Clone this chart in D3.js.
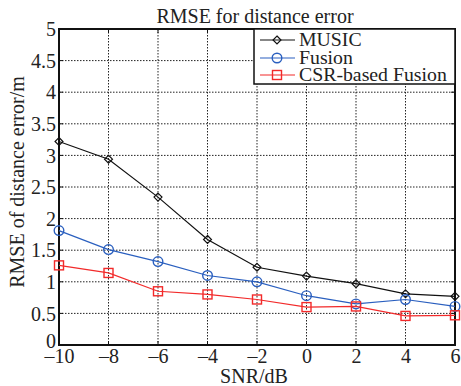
<!DOCTYPE html>
<html><head><meta charset="utf-8">
<script src="https://cdn.jsdelivr.net/npm/d3@7"></script>
<style>
body{margin:0;background:#fff;}
svg text{font-family:"Liberation Serif","Times New Roman",Times,serif;fill:#222;}
</style></head>
<body><svg id="c" width="461" height="386"></svg>
<script>
const snr = [-10,-8,-6,-4,-2,0,2,4,6];
const music = [3.22,2.94,2.34,1.67,1.23,1.09,0.97,0.81,0.77];
const fusion = [1.81,1.51,1.32,1.10,1.00,0.78,0.65,0.72,0.61];
const csr = [1.26,1.14,0.85,0.80,0.72,0.60,0.61,0.46,0.47];
const yTicks = [0,0.5,1,1.5,2,2.5,3,3.5,4,4.5,5];
const xTicks = [-10,-8,-6,-4,-2,0,2,4,6];
const seriesNames = ["MUSIC","Fusion","CSR-based Fusion"];
const seriesColors = ["#111","#2a5fbf","#f22a2a"];
const seriesMarkers = ["diamond","circle","square"];

const L=59,R=455,T=29,B=345;
const FONT='"Liberation Serif","Times New Roman",Times,serif';
const svg=d3.select("#c");
const x=d3.scaleLinear().domain([-10,6]).range([L,R]);
const y=d3.scaleLinear().domain([0,5]).range([B,T]);

// grid
const g=svg.append("g");
g.selectAll(".gx").data(xTicks.slice(1,-1)).enter().append("line")
 .attr("x1",d=>x(d)).attr("x2",d=>x(d)).attr("y1",T).attr("y2",B)
 .attr("stroke","#222").attr("stroke-width",1).attr("stroke-dasharray","1.5,1.5");
g.selectAll(".gy").data(yTicks.slice(1,-1)).enter().append("line")
 .attr("y1",d=>y(d)).attr("y2",d=>y(d)).attr("x1",L).attr("x2",R)
 .attr("stroke","#222").attr("stroke-width",1).attr("stroke-dasharray","1.5,1.5");

// axes
const xAxis=d3.axisBottom(x).tickValues(xTicks).tickSize(0).tickPadding(0)
 .tickFormat(d=>d<0?"\u2013"+Math.abs(d):d);
const ax=svg.append("g").attr("transform",`translate(0,${B})`).call(xAxis);
ax.attr("font-family",FONT);
ax.select(".domain").remove();
ax.selectAll("text").attr("font-size",20).attr("fill","#222").attr("y",18).attr("dy",0);
const yAxis=d3.axisLeft(y).tickValues(yTicks).tickSize(0).tickPadding(3).tickFormat(d=>d);
const ay=svg.append("g").attr("transform",`translate(${L},0)`).call(yAxis);
ay.attr("font-family",FONT);
ay.select(".domain").remove();
ay.selectAll("text").attr("font-size",20).attr("fill","#222").attr("dy","0.33em");
ay.selectAll(".tick").filter(d=>d===0).select("text").attr("dy","0.1em");

// inward ticks
svg.selectAll(".tkx").data(xTicks).enter().append("line")
 .attr("x1",d=>x(d)).attr("x2",d=>x(d)).attr("y1",B).attr("y2",B-4).attr("stroke","#111");
svg.selectAll(".tkx2").data(xTicks).enter().append("line")
 .attr("x1",d=>x(d)).attr("x2",d=>x(d)).attr("y1",T).attr("y2",T+4).attr("stroke","#111");
svg.selectAll(".tky").data(yTicks).enter().append("line")
 .attr("y1",d=>y(d)).attr("y2",d=>y(d)).attr("x1",L).attr("x2",L+4).attr("stroke","#111");
svg.selectAll(".tky2").data(yTicks).enter().append("line")
 .attr("y1",d=>y(d)).attr("y2",d=>y(d)).attr("x1",R).attr("x2",R-4).attr("stroke","#111");

// frame
svg.append("rect").attr("x",L).attr("y",T).attr("width",R-L).attr("height",B-T)
 .attr("fill","none").attr("stroke","#111").attr("stroke-width",2);

function marker(sel,type,color){
  if(type==="diamond"){
    sel.append("path").attr("d",d3.symbol(d3.symbolDiamond2,40)()).attr("fill","none").attr("stroke",color).attr("stroke-width",1.2);
  } else if(type==="circle"){
    sel.append("circle").attr("r",4.8).attr("fill","none").attr("stroke",color).attr("stroke-width",1.4);
  } else {
    sel.append("rect").attr("x",-4.5).attr("y",-4.5).attr("width",9).attr("height",9).attr("fill","none").attr("stroke",color).attr("stroke-width",1.4);
  }
}

const allSeries=[music,fusion,csr];
const line=d3.line().x((d,i)=>x(snr[i])).y(d=>y(d));
allSeries.forEach((s,k)=>{
  svg.append("path").datum(s).attr("d",line).attr("fill","none").attr("stroke",seriesColors[k]).attr("stroke-width",1.2);
  s.forEach((v,i)=>{
    const m=svg.append("g").attr("transform",`translate(${x(snr[i])},${y(v)})`);
    marker(m,seriesMarkers[k],seriesColors[k]);
  });
});

// legend
const lg=svg.append("g");
lg.append("rect").attr("x",254).attr("y",T).attr("width",R-254).attr("height",55)
 .attr("fill","#fff").attr("stroke","#111").attr("stroke-width",1.5);
const rowsY=[40,58,75];
seriesNames.forEach((n,k)=>{
  lg.append("line").attr("x1",260).attr("x2",295).attr("y1",rowsY[k]).attr("y2",rowsY[k]).attr("stroke",seriesColors[k]).attr("stroke-width",1.2);
  const m=lg.append("g").attr("transform",`translate(277,${rowsY[k]})`);
  marker(m,seriesMarkers[k],seriesColors[k]);
  lg.append("text").attr("transform",`translate(299,${rowsY[k]+6}) scale(1.07,1)`).attr("font-size",18.5).text(n);
});

// title and labels
svg.append("text").attr("x",255).attr("y",23).attr("text-anchor","middle").attr("font-size",20).text("RMSE for distance error");
svg.append("text").attr("x",254).attr("y",383).attr("text-anchor","middle").attr("font-size",20).text("SNR/dB");
svg.append("text").attr("transform","translate(24,182) rotate(-90)").attr("text-anchor","middle").attr("font-size",20).text("RMSE of distance error/m");
</script></body></html>
